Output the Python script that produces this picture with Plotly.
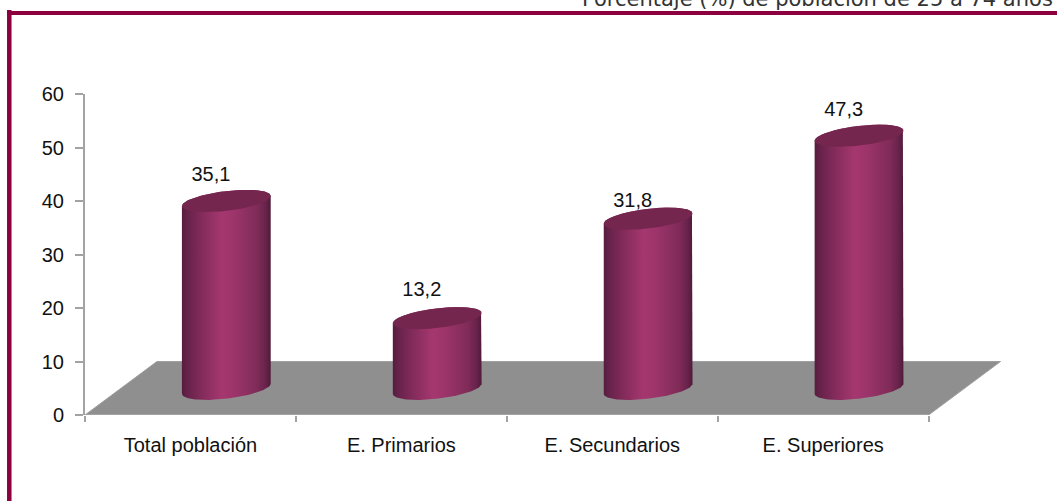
import numpy as np
import plotly.graph_objects as go

categories = ["Total población", "E. Primarios", "E. Secundarios", "E. Superiores"]
values = [35.1, 13.2, 31.8, 47.3]
value_labels = ["35,1", "13,2", "31,8", "47,3"]
y_ticks = [0, 10, 20, 30, 40, 50, 60]
unit_text = "Porcentaje (%) de población de 25 a 74 años"

W, H = 1057, 501
CAT_PX = 211
X_MAX = 4.4
L, T, B = 85, 94, 415
R = L + X_MAX * CAT_PX
FONT = "Liberation Sans Narrow, Arial Narrow, Liberation Sans, sans-serif"
GRAY = "#a3a3a3"
FRAME = "#8c0040"
DEPTH_X = 0.341   # depth of the floor in category units
DEPTH_Y = 10      # depth of the floor in value units
CYL_DX = 0.67     # cylinder centre inside a category
CYL_A = 0.2105    # half-width, category units
CYL_B = 1.85      # vertical half-axis, value units
CYL_K = 0.95      # tilt of the ellipse, value units
BASE_Y = 4.9      # cylinder base centre in value units
LABEL_DX = 0.597
LABEL_DY = [9.6, 9.9, 8.1, 9.6]

fig = go.Figure()

# floor
fig.add_trace(go.Scatter(
    x=[0, 4, 4 + DEPTH_X, DEPTH_X, 0], y=[0, 0, DEPTH_Y, DEPTH_Y, 0],
    mode="lines", fill="toself", fillcolor="#8f8f8f",
    line=dict(color="#a0a0a0", width=1), cliponaxis=False,
    hoverinfo="skip", showlegend=False))

# category axis line, as long as the categories
fig.add_trace(go.Scatter(
    x=[0, 4], y=[0, 0], mode="lines", line=dict(color=GRAY, width=2),
    cliponaxis=False, hoverinfo="skip", showlegend=False))

grad = [[0, "#561c3e"], [0.06, "#66224a"], [0.2, "#7f2a58"], [0.45, "#a5376f"],
        [0.6, "#9b346a"], [0.85, "#7f2b58"], [0.95, "#66224a"], [1, "#4e1a38"]]


def ellipse(cx, cy, t):
    return cx + CYL_A * np.cos(t), cy + CYL_B * np.sin(t) + CYL_K * np.cos(t)


for i, v in enumerate(values):
    cx = i + CYL_DX
    top_y = BASE_Y + v
    # body: lower half of the base, then upper half of the top
    xb, yb = ellipse(cx, BASE_Y, np.linspace(np.pi, 2 * np.pi, 60))
    xt, yt = ellipse(cx, top_y, np.linspace(0, np.pi, 60))
    fig.add_trace(go.Scatter(
        x=np.r_[xb, xt, xb[:1]], y=np.r_[yb, yt, yb[:1]],
        mode="lines", line=dict(width=0), fill="toself",
        fillgradient=dict(type="horizontal", colorscale=grad,
                          start=cx - CYL_A, stop=cx + CYL_A),
        cliponaxis=False, hoverinfo="skip", showlegend=False))
    # cap
    xc, yc = ellipse(cx, top_y, np.linspace(0, 2 * np.pi, 120))
    fig.add_trace(go.Scatter(
        x=xc, y=yc, mode="lines", line=dict(width=0), fill="toself",
        fillcolor="#74264e", cliponaxis=False, hoverinfo="skip", showlegend=False))

# value labels
fig.add_trace(go.Scatter(
    x=[i + LABEL_DX for i in range(len(values))],
    y=[v + d for v, d in zip(values, LABEL_DY)],
    mode="text", text=value_labels, textposition="middle center",
    textfont=dict(family=FONT, size=20, color="#111111"),
    cliponaxis=False, hoverinfo="skip", showlegend=False))


def px(x):
    return (x - L) / (R - L)


def py(y):
    return (B - y) / (B - T)


shapes = [
    dict(type="rect", xref="paper", yref="paper", x0=px(7), x1=px(W + 5),
         y0=py(11), y1=py(15), fillcolor=FRAME, line_width=0, layer="below"),
    dict(type="rect", xref="paper", yref="paper", x0=px(7), x1=px(11.5),
         y0=py(10), y1=py(H + 5), fillcolor=FRAME, line_width=0, layer="below"),
]

fig.update_layout(
    width=W, height=H, autosize=False,
    margin=dict(l=L, r=W - R, t=T, b=H - B),
    paper_bgcolor="white", plot_bgcolor="white",
    showlegend=False, shapes=shapes,
    annotations=[dict(
        text=unit_text, xref="paper", yref="paper", x=px(1053), y=py(12),
        xanchor="right", yanchor="bottom", showarrow=False,
        borderpad=0, xshift=1,
        font=dict(family="DejaVu Sans, sans-serif", size=21, color="#333333"))],
    xaxis=dict(range=[0, X_MAX], tickvals=[0.5, 1.5, 2.5, 3.5], ticktext=categories,
               ticks="", showgrid=False, zeroline=False, showline=False,
               ticklabelstandoff=16,
               tickfont=dict(family=FONT, size=20, color="#111111"),
               minor=dict(tickvals=[0, 1, 2, 3, 4], ticks="outside", ticklen=6,
                          tickwidth=1.5, tickcolor=GRAY, showgrid=False)),
    yaxis=dict(range=[0, 60], tickvals=y_ticks, ticks="outside", ticklen=8,
               tickwidth=1.5, tickcolor=GRAY, showgrid=False, zeroline=False,
               showline=True, linecolor=GRAY, linewidth=2, ticklabelstandoff=7,
               tickfont=dict(family=FONT, size=20, color="#111111")),
)

fig.write_html("out.html", config=dict(displayModeBar=False),
               post_script="document.body.style.margin='0';")
